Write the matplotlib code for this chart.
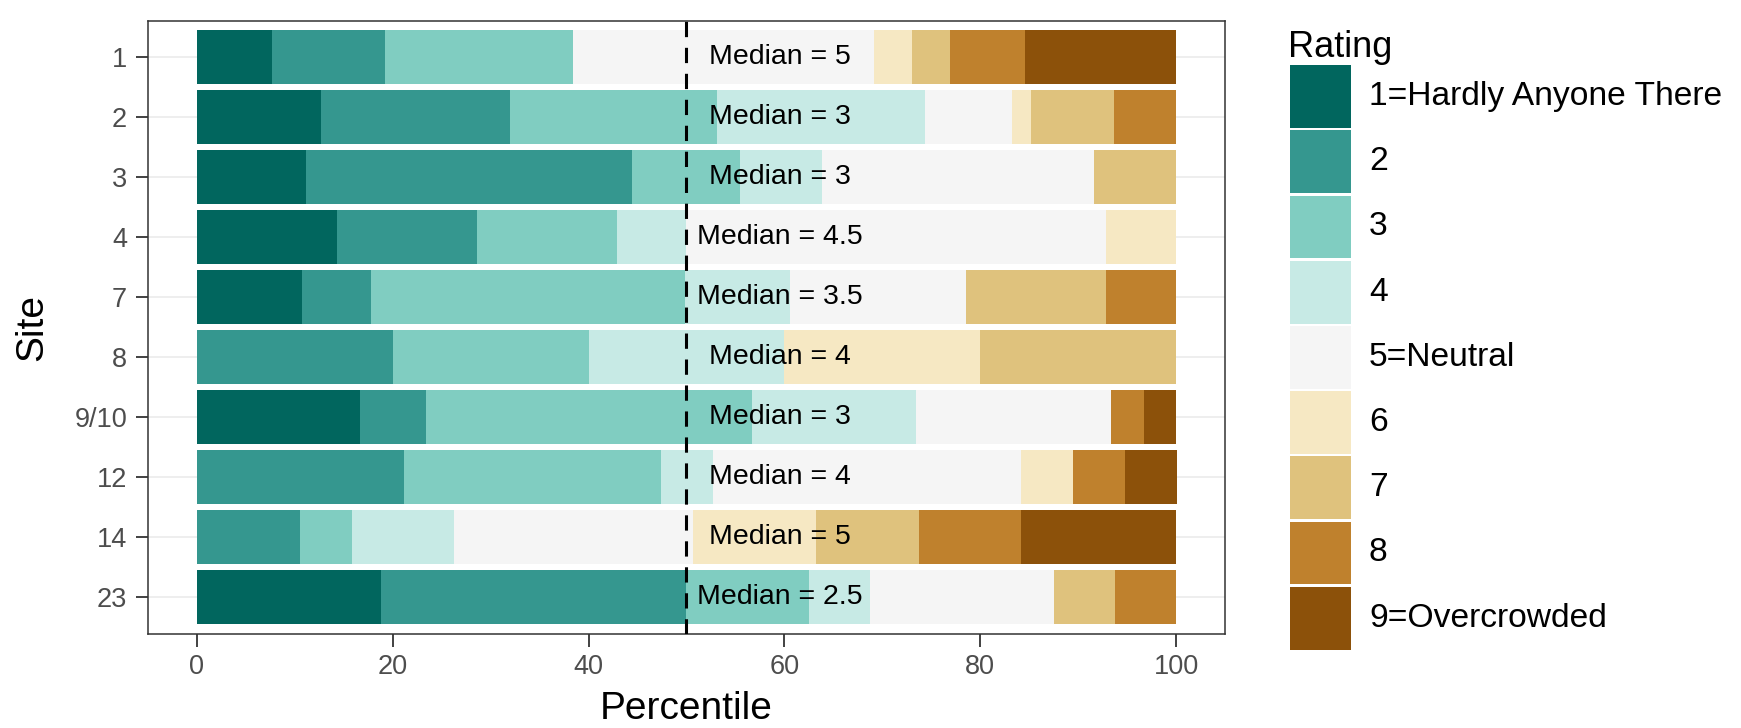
import matplotlib.pyplot as plt
import numpy as np

plt.rcParams['font.family'] = ['Liberation Sans', 'DejaVu Sans']

## data

sites = ['1', '2', '3', '4', '7', '8', '9/10', '12', '14', '23']
medians = ['5', '3', '3', '4.5', '3.5', '4', '3', '4', '5', '2.5']
ratings = ['1=Hardly Anyone There', '2', '3', '4', '5=Neutral',
           '6', '7', '8', '9=Overcrowded']

# percent of answers per rating, one value per site (same order as sites)
pct_1 = [7.7, 12.7, 11.1, 14.3, 10.7, 0, 16.7, 0, 0, 18.75]
pct_2 = [11.5, 19.3, 33.3, 14.3, 7.1, 20, 6.7, 21.1, 10.5, 31.25]
pct_3 = [19.2, 21.1, 11.1, 14.3, 32.1, 20, 33.3, 26.3, 5.3, 12.5]
pct_4 = [0, 21.3, 8.3, 7.1, 10.7, 20, 16.7, 5.3, 10.5, 6.25]
pct_5 = [30.8, 8.8, 27.8, 42.9, 17.9, 0, 20.0, 31.5, 24.4, 18.75]
pct_6 = [3.85, 2.0, 0, 7.1, 0, 20, 0, 5.3, 12.5, 0]
pct_7 = [3.85, 8.5, 8.4, 0, 14.3, 20, 0, 0, 10.5, 6.25]
pct_8 = [7.7, 6.3, 0, 0, 7.2, 0, 3.3, 5.3, 10.5, 6.25]
pct_9 = [15.4, 0, 0, 0, 0, 0, 3.3, 5.3, 15.8, 0]

# BrBG, teal for low ratings
colors = ['#01665e', '#35978f', '#80cdc1', '#c7eae5', '#f5f5f5',
          '#f6e8c3', '#dfc27d', '#bf812d', '#8c510a']

## figure

fig = plt.figure(figsize=(17.41, 7.28), dpi=100)
ax = fig.add_axes([0.0850, 0.1298, 0.6186, 0.8420])

pcts = np.array([pct_1, pct_2, pct_3, pct_4, pct_5, pct_6, pct_7, pct_8, pct_9])
lefts = np.vstack([np.zeros(len(sites)), np.cumsum(pcts, axis=0)[:-1]])
ypos = np.arange(len(sites))

ax.grid(axis='y', color='#ebebeb', linewidth=1.2, zorder=0)
for i in range(len(ratings)):
    ax.barh(ypos, pcts[i], left=lefts[i], height=0.9,
            color=colors[i], linewidth=0, zorder=2)

# median line + labels
ax.axvline(50, color='black', linewidth=2.2, linestyle=(0, (5, 3.5)), zorder=3)
for y, m in zip(ypos, medians):
    ax.text(59.5, y, 'Median = %s' % m, ha='center', va='center',
            fontsize=20.5, color='black', zorder=4)

ax.set_xlim(-5, 105)
ax.set_ylim(len(sites) - 0.4, -0.6)
ax.set_xticks([0, 20, 40, 60, 80, 100])
ax.set_yticks(ypos)
ax.set_yticklabels(sites)
ax.tick_params(labelsize=19.5, labelcolor='#4d4d4d', color='#333333',
               length=9, width=1.3, pad=6)
for sp in ax.spines.values():
    sp.set_color('#333333')
    sp.set_linewidth(1.1)

ax.set_xlabel('Percentile', fontsize=28, va='baseline')
ax.xaxis.set_label_coords(0.5, -0.140)
ax.set_ylabel('Site', fontsize=28, va='center')
ax.yaxis.set_label_coords(-0.107, 0.5)

## legend (drawn by hand so the keys touch like ggplot)

lax = fig.add_axes([1280 / 1741, 0, 461 / 1741, 1])
lax.set_xlim(0, 461)
lax.set_ylim(9.685, -1.482)
lax.axis('off')
lax.barh(np.arange(len(ratings)), 61, left=10, height=0.965,
         color=colors, linewidth=0)
for i, lab in enumerate(ratings):
    lax.text(89, i, lab, fontsize=24.2, va='center', ha='left')
lax.text(8, -0.6, 'Rating', fontsize=26, va='baseline', ha='left')

plt.savefig('out.png', dpi=100)
plt.close('all')
